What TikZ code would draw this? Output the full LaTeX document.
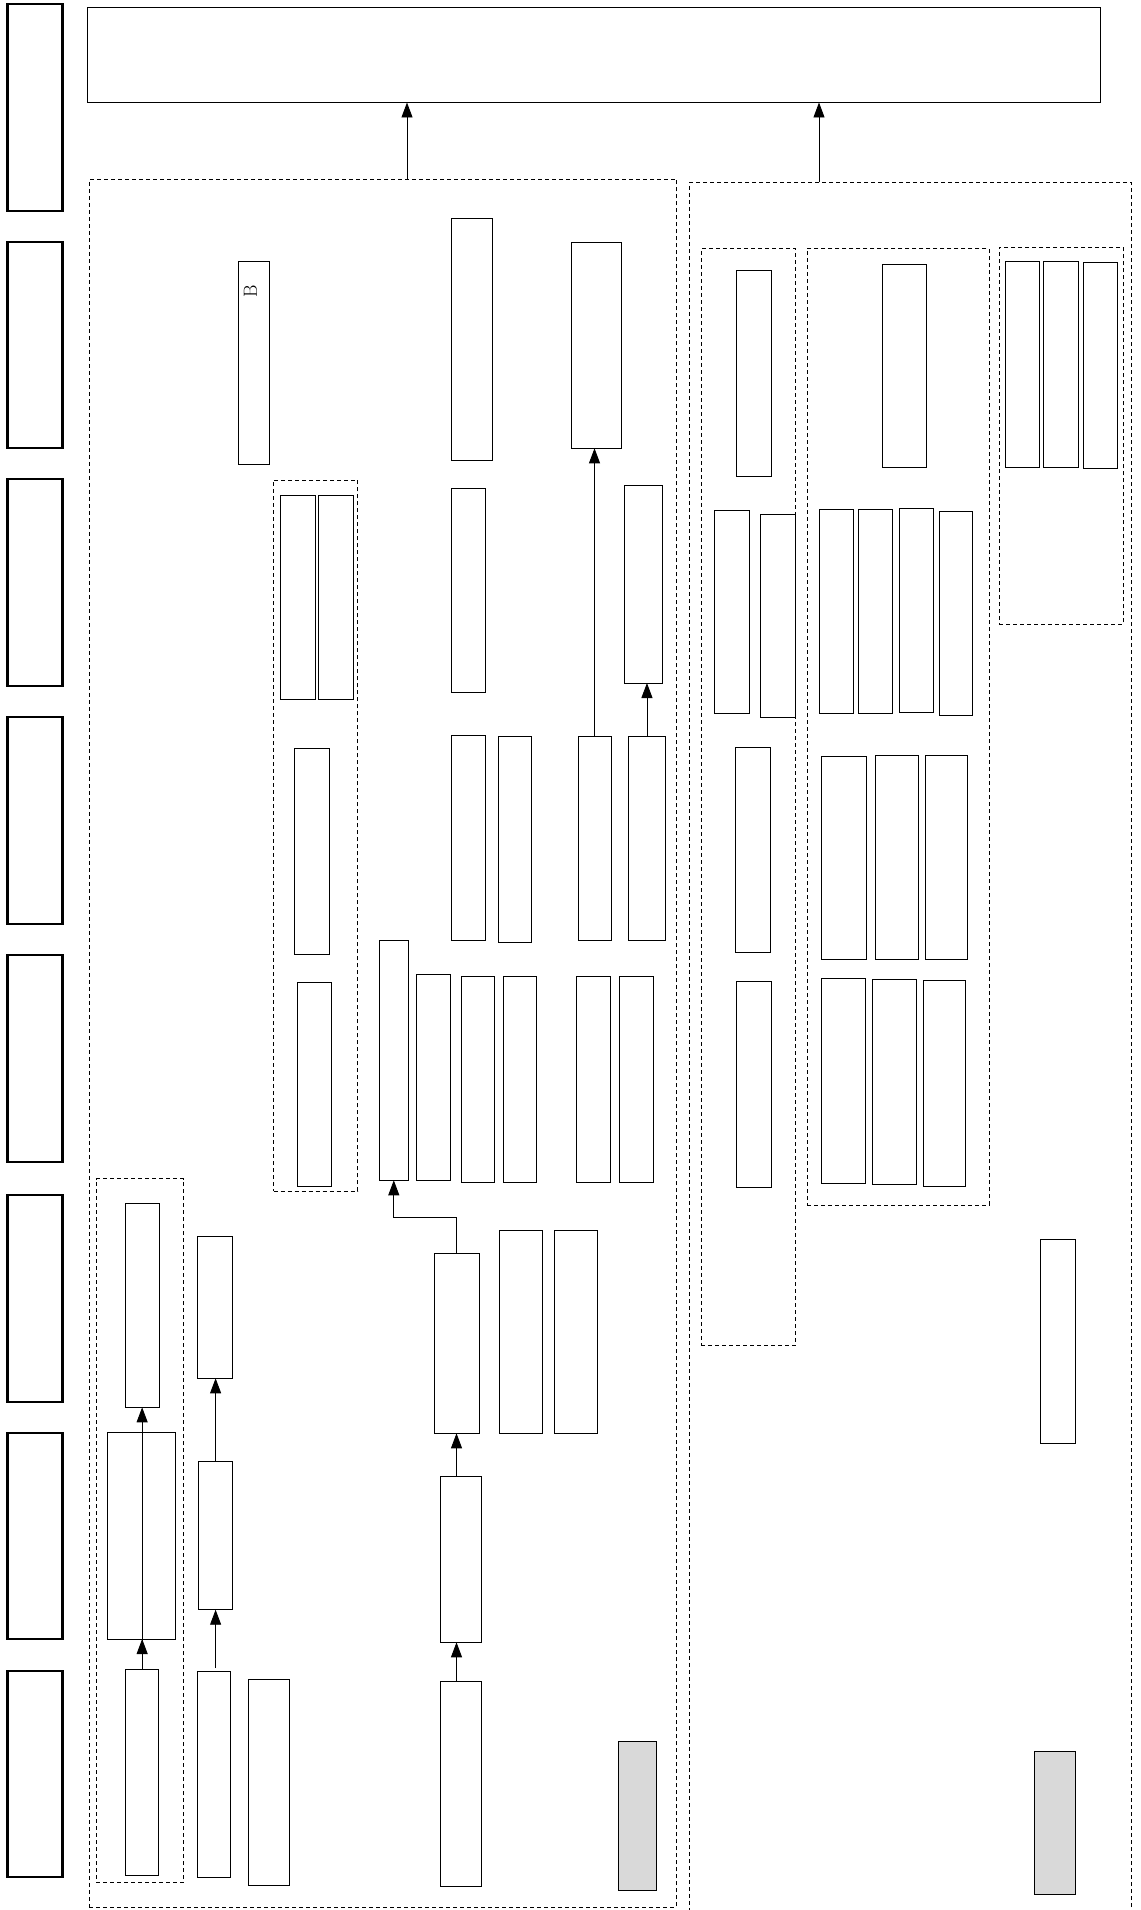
\documentclass[tikz,border=0pt]{standalone}
\usetikzlibrary{arrows.meta,calc}
\tikzset{
 box/.style={draw=black,line width=0.9pt,fill=white,inner sep=0pt,outer sep=0pt,rectangle},
 side/.style={box,line width=2.4pt},
 grp/.style={draw=black,line width=0.8pt,dash pattern=on 4pt off 3pt,inner sep=0pt,outer sep=0pt,rectangle},
 shade/.style={box,fill=gray!30},
 arr/.style={draw=black,line width=0.9pt,-{Triangle[length=15pt,width=11pt]}},
}
\newcommand{\mkbox}[6][box]{\node[#1,minimum width={#5-#3},minimum height={#6-#4}] (#2) at ({(#3+#5)/2},{(#4+#6)/2}) {};}
\begin{document}
\begin{tikzpicture}[x=1pt,y=-1pt]
\useasboundingbox (0,0) rectangle (1140,1910);
% side column
\mkbox[side]{s0}{7.3}{4}{62.5}{211}
\mkbox[side]{sA}{7.3}{242}{62.5}{448}
\mkbox[side]{sB}{7.3}{479}{62.5}{686}
\mkbox[side]{sC}{7.3}{717}{62.5}{924}
\mkbox[side]{sD}{7.3}{955}{62.5}{1161.7}
\mkbox[side]{sE}{7.3}{1195}{62.5}{1401.7}
\mkbox[side]{sF}{7.3}{1433}{62.5}{1639}
\mkbox[side]{sG}{7.3}{1671}{62.5}{1877}
% top
\mkbox{top}{87.7}{7.3}{1100}{102.5}
% groups
\mkbox[grp]{LG}{89}{179.3}{676.4}{1907}
\mkbox[grp]{RG}{689.5}{182.5}{1131.6}{1913}
\mkbox[grp]{g1}{273.5}{480}{357.8}{1191}
\mkbox[grp]{g2}{96}{1178.7}{183.3}{1882.7}
\mkbox[grp]{r1}{701}{248.7}{795.6}{1345}
\mkbox[grp]{r2}{807}{248.7}{989}{1205}
\mkbox[grp]{r3}{999}{247.3}{1123}{624.3}
% left group boxes
\mkbox{bB}{238.5}{261}{269}{464.3}
\node[rotate=90,font=\fontsize{19}{22}\selectfont,inner sep=0pt] (lblB) at (250.5,291) {B};
\mkbox{a1}{451}{218}{492.4}{460.7}
\mkbox{a2}{571.6}{242.7}{621.8}{448.3}
\mkbox{g1a}{280.7}{495.3}{315.6}{699}
\mkbox{g1b}{318.5}{495.3}{353.5}{699}
\mkbox{g1c}{294.5}{748}{329.5}{954}
\mkbox{g1d}{297.5}{982.3}{331.6}{1186}
\mkbox{a3}{451}{488.7}{485.8}{692}
\mkbox{a4}{624.7}{485.7}{662.5}{683}
\mkbox{m1}{451}{735.7}{485.8}{940.7}
\mkbox{m2}{498}{736.7}{531.6}{942.3}
\mkbox{m3}{578}{736.7}{611}{940}
\mkbox{m4}{628.4}{736.7}{665.5}{940}
\mkbox{n0}{379.6}{940.7}{408}{1180.3}
\mkbox{n1}{416}{974.7}{450}{1180.3}
\mkbox{n2}{461}{976.3}{494.5}{1182.3}
\mkbox{n3}{503}{976.3}{536.7}{1182.3}
\mkbox{n4}{576.7}{976.3}{610}{1182.3}
\mkbox{n5}{619.6}{976.3}{653.8}{1182.3}
\mkbox{p1}{434}{1253}{479}{1433.3}
\mkbox{p2}{499}{1230}{542}{1433.3}
\mkbox{p3}{554}{1230}{597}{1433.3}
\mkbox{q1}{440}{1476}{481.5}{1642.3}
\mkbox{q2}{440}{1681}{481.5}{1886.7}
\mkbox[shade]{gy1}{618}{1741.7}{656.7}{1890.7}
\mkbox{b1}{125}{1203.7}{159.3}{1407.3}
\mkbox{b2}{107.6}{1432.7}{175.3}{1639}
\mkbox{b3}{125}{1669}{158.5}{1875.7}
\mkbox{c1}{197}{1236.3}{232}{1378.3}
\mkbox{c2}{198.5}{1461.7}{232.7}{1609.7}
\mkbox{c3}{197}{1671}{230.5}{1877.3}
\mkbox{c4}{248}{1679.3}{289.5}{1885}
% right group boxes
\mkbox{s1}{736.7}{270.7}{771.6}{476}
\mkbox{s2}{714}{510.3}{749}{713.7}
\mkbox{s3}{760.7}{514.3}{795}{717.7}
\mkbox{s4}{735}{747.3}{770}{952.7}
\mkbox{s5}{736.7}{981.7}{771.6}{1187}
\mkbox{t0}{882}{264.3}{926}{467.3}
\mkbox{t1}{819}{509}{853}{713}
\mkbox{t2}{858}{509}{892.4}{713}
\mkbox{t3}{899}{508.3}{933}{712}
\mkbox{t4}{939}{511.7}{972.4}{715.3}
\mkbox{u1}{821.8}{756.3}{866}{959.7}
\mkbox{u2}{875}{755.7}{918.5}{959.7}
\mkbox{u3}{925.8}{755.7}{967.3}{959.7}
\mkbox{v1}{821.8}{978.3}{865.5}{1183.3}
\mkbox{v2}{872}{979.7}{916.4}{1184.7}
\mkbox{v3}{923}{980.3}{965}{1186.3}
\mkbox{w1}{1005}{261}{1039}{467.3}
\mkbox{w2}{1043.6}{261}{1078}{467.3}
\mkbox{w3}{1083}{262.3}{1117}{468.3}
\mkbox{x1}{1040.7}{1239.7}{1075}{1443}
\mkbox[shade]{gy2}{1034}{1751}{1075.6}{1894}
% arrows
\coordinate (la) at ([xshift=318pt]LG.north west);
\coordinate (ra) at ([xshift=129.5pt]RG.north west);
\draw[arr] (la) -- (la |- top.south);
\draw[arr] (ra) -- (ra |- top.south);
\draw[arr] (m3.north) -- (m3.north |- a2.south);
\draw[arr] (m4.north) -- (m4.north |- a4.south);
\draw[arr] (p1.north) -- ++(0,-36) -| (n0.south);
\draw[arr] (p1.south |- q1.north) -- (p1.south);
\draw[arr] (p1.south |- q2.north) -- (p1.south |- q1.south);
\draw[arr] (b1.south |- b3.north) -- (b2.south -| b1.south);
\draw[arr] (b1.south |- b3.north) -- (b1.south);
\draw[arr,shorten <=3pt] (c2.south |- c3.north) -- (c2.south);
\draw[arr] (c2.north) -- (c2.north |- c1.south);
\end{tikzpicture}
\end{document}
